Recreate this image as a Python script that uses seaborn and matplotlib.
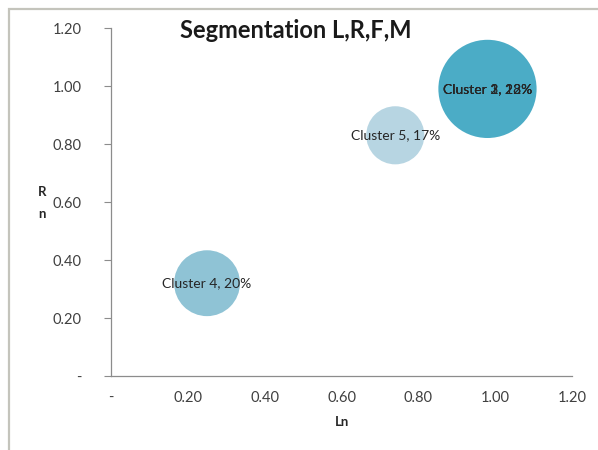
import matplotlib
matplotlib.use("Agg")
import matplotlib.pyplot as plt
import seaborn as sns
import pandas as pd
from matplotlib.patches import Rectangle

# ---- data ----
clusters = ["Cluster 1", "Cluster 2", "Cluster 3", "Cluster 4", "Cluster 5"]
ln_values = [0.98, 0.98, 0.98, 0.25, 0.74]
rn_values = [0.99, 0.99, 0.99, 0.32, 0.83]
shares = ["18%", "22%", "23%", "20%", "17%"]
bubble_size = [0.60, 0.80, 1.00, 0.45, 0.35]
x_ticks = [0.0, 0.2, 0.4, 0.6, 0.8, 1.0, 1.2]
x_tick_labels = ["-", "0.20", "0.40", "0.60", "0.80", "1.00", "1.20"]
y_ticks = [0.0, 0.2, 0.4, 0.6, 0.8, 1.0, 1.2]
y_tick_labels = ["-", "0.20", "0.40", "0.60", "0.80", "1.00", "1.20"]

colors = {"Cluster 1": "#4bacc6", "Cluster 2": "#4bacc6", "Cluster 3": "#4bacc6",
          "Cluster 4": "#8fc3d5", "Cluster 5": "#b7d5e2"}

df = pd.DataFrame({"cluster": clusters, "Ln": ln_values, "Rn": rn_values,
                   "share": shares, "size": bubble_size})

sns.set_theme(style="white")
plt.rcParams["font.family"] = ["Lato", "DejaVu Sans"]

fig = plt.figure(figsize=(5.98, 4.5), dpi=100)
ax = fig.add_axes([111 / 598, 1 - 376 / 450, (572 - 111) / 598, (376 - 28) / 450])

sns.scatterplot(data=df, x="Ln", y="Rn", hue="cluster", palette=colors,
                size="size", sizes=(0, 5000), size_norm=(0, 1),
                linewidth=0, alpha=1, legend=False, ax=ax, zorder=3)

for c, x, y, s in zip(clusters, ln_values, rn_values, shares):
    ax.text(x, y, f"{c}, {s}", ha="center", va="center", fontsize=10,
            color="#262626", zorder=5)

ax.set_xlim(0, 1.2)
ax.set_ylim(0, 1.2)
ax.set_xticks(x_ticks)
ax.set_xticklabels(x_tick_labels)
ax.set_yticks(y_ticks)
ax.set_yticklabels(y_tick_labels)
ax.tick_params(axis="x", length=0, pad=11, labelsize=10.5, labelcolor="#404040")
ax.tick_params(axis="y", length=5, width=0.8, color="#8c8c8c", left=True,
               pad=16, labelsize=10.5, labelcolor="#404040")
for side in ["top", "right"]:
    ax.spines[side].set_visible(False)
for side in ["left", "bottom"]:
    ax.spines[side].set_color("#8c8c8c")
    ax.spines[side].set_linewidth(0.9)

ax.set_xlabel("Ln", fontsize=9.5, fontweight="bold", color="#262626", labelpad=8)
ax.set_ylabel("")
fig.text(42 / 598, 1 - 203 / 450, "R\nn", fontsize=9.5, fontweight="bold",
         color="#262626", ha="center", va="center", linespacing=2.0)

fig.text(296 / 598, 1 - 30 / 450, "Segmentation L,R,F,M", fontsize=17,
         fontweight="bold", color="#1a1a1a", ha="center", va="center")

fig.patches.append(Rectangle((9 / 598, -0.1), 1.2, 1 - 9 / 450 + 0.1,
                             transform=fig.transFigure, fill=False,
                             edgecolor="#c4c4bc", linewidth=1.6, zorder=0))

fig.savefig("out.png", dpi=100)
